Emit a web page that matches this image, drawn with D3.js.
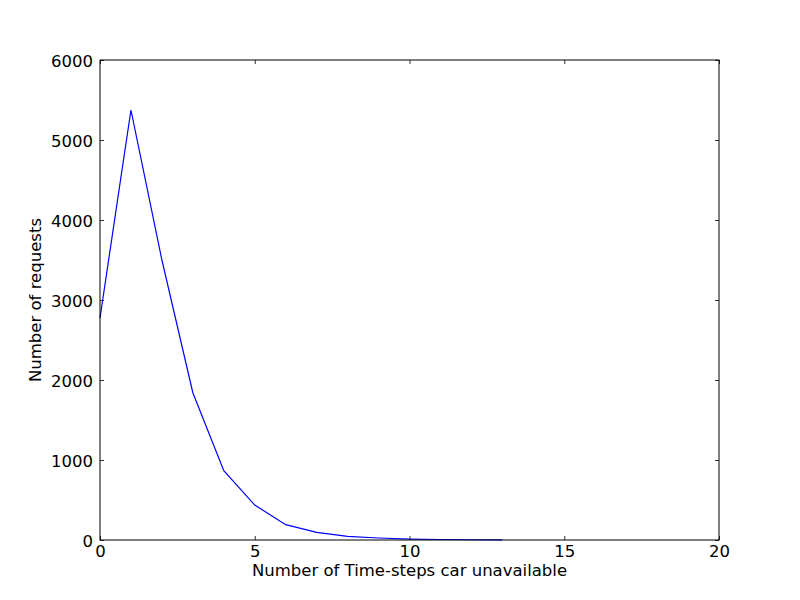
<!DOCTYPE html>
<html><head><meta charset="utf-8">
<script src="https://cdn.jsdelivr.net/npm/d3@7"></script>
<style>body{margin:0;background:#fff}svg{display:block}text{font-family:"DejaVu Sans",sans-serif}</style>
</head><body><svg id="c" width="800" height="600"></svg>
<script>
const xValues = [0,1,2,3,4,5,6,7,8,9,10,11,12,13];
const yValues = [2775,5375,3500,1841,866,437,192,95,45,25,12,6,3,1];
const xTicks = [0,5,10,15,20];
const yTicks = [0,1000,2000,3000,4000,5000,6000];

(function(){
const svg = d3.select("#c");
const L=100,R=719,T=60,B=540;
const x = d3.scaleLinear().domain([0,20]).range([L,R]);
const y = d3.scaleLinear().domain([0,6000]).range([B,T]);
const fs = 16.5;
const fmt = d3.format("d");

svg.append("rect").attr("width",800).attr("height",600).attr("fill","#fff");

const line = d3.line().x((d,i)=>x(xValues[i])).y(d=>y(d));
svg.append("path").datum(yValues).attr("d",line).attr("fill","none").attr("stroke","#0000ff").attr("stroke-width",1.2);

const gB = svg.append("g").attr("transform",`translate(0,${B})`).call(d3.axisBottom(x).tickValues(xTicks).tickFormat(fmt).tickSizeInner(-4).tickSizeOuter(0).tickPadding(5));
const gT = svg.append("g").attr("transform",`translate(0,${T})`).call(d3.axisTop(x).tickValues(xTicks).tickSizeInner(-4).tickSizeOuter(0).tickFormat(""));
const gL = svg.append("g").attr("transform",`translate(${L},0)`).call(d3.axisLeft(y).tickValues(yTicks).tickFormat(fmt).tickSizeInner(-4).tickSizeOuter(0).tickPadding(7));
const gR = svg.append("g").attr("transform",`translate(${R},0)`).call(d3.axisRight(y).tickValues(yTicks).tickSizeInner(-4).tickSizeOuter(0).tickFormat(""));
[gB,gT,gL,gR].forEach(g=>{
  g.select(".domain").remove();
  g.selectAll("line").attr("stroke","#000").attr("stroke-width",0.8);
  g.selectAll("text").attr("font-family","DejaVu Sans").attr("font-size",fs).attr("fill","#000");
});
gB.selectAll("text").attr("dy","0.71em");
gL.selectAll("text").attr("dy","0.38em");
svg.append("rect").attr("x",L).attr("y",T).attr("width",R-L).attr("height",B-T).attr("fill","none").attr("stroke","#000").attr("stroke-width",1);

svg.append("text").attr("x",(L+R)/2).attr("y",576).attr("text-anchor","middle").attr("font-size",fs).text("Number of Time-steps car unavailable");
svg.append("text").attr("transform",`translate(41,${(T+B)/2}) rotate(-90)`).attr("text-anchor","middle").attr("font-size",fs).text("Number of requests");
})();
</script></body></html>
